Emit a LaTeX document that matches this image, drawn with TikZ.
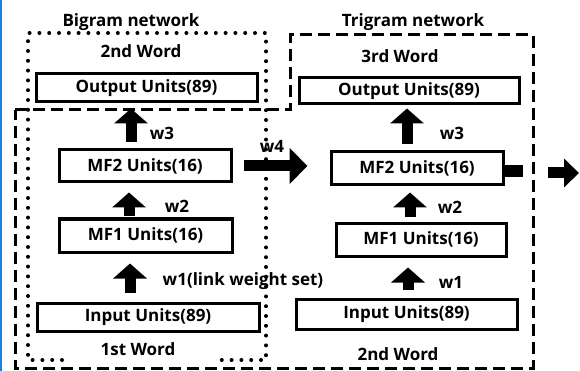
\documentclass[tikz,border=0pt]{standalone}
\usepackage{fontspec}
\setmainfont{Open Sans}
\usetikzlibrary{arrows.meta}

\definecolor{scanblue}{RGB}{26,128,224}

\begin{document}
\begin{tikzpicture}[x=1pt, y=-1pt,
  unitbox/.style={draw, line width=3pt, inner sep=0pt},
  lbl/.style={font=\fontsize{17}{19}\selectfont\bfseries, inner sep=0pt},
  fatarrow/.style={line width=11pt, -{Triangle[width=33pt, length=15pt]}},
  fatbar/.style={line width=12pt},
  dashline/.style={line width=3pt, dash pattern=on 12pt off 6pt},
  dotline/.style={line width=4pt, line cap=round, dash pattern=on 0pt off 9.8pt}]

\useasboundingbox (0,0) rectangle (580,371);
\fill[scanblue] (0,0) rectangle (2,371);

% network frames
\draw[dotline] (62,360) -- (28,360) -- (28,33) -- (266,33) -- (266,360) -- (220,360);
\draw[dashline] (15,110) -- (290,110) -- (290,35) -- (533,35) -- (533,368) -- (15,368) -- cycle;

\node[lbl, anchor=base] (bigram) at (131,27) {Bigram network};
\node[lbl, anchor=base] (trigram) at (413,27) {Trigram network};

% bigram network
\node[lbl, anchor=base] (bword2) at (141,58) {2nd Word};
\node[unitbox, lbl, minimum width=221pt, minimum height=28pt] (bout) at (146.5,88) {Output Units(89)};
\node[unitbox, lbl, minimum width=172pt, minimum height=32pt] (bmf2) at (145,166) {MF2 Units(16)};
\node[unitbox, lbl, minimum width=173pt, minimum height=33pt] (bmf1) at (145.5,235.5) {MF1 Units(16)};
\node[unitbox, lbl, minimum width=222pt, minimum height=28pt] (bin) at (148,317) {Input Units(89)};
\node[lbl, anchor=base] (bword1) at (138,355) {1st Word};

\draw[fatarrow, shorten <=6pt, shorten >=5pt] ([xshift=-14pt]bmf2.north) -- ([xshift=-14pt]bmf2.north |- bout.south);
\draw[fatarrow, shorten <=1pt, shorten >=9pt] ([xshift=-16.5pt]bmf1.north) -- ([xshift=-16.5pt]bmf1.north |- bmf2.south);
\draw[fatarrow, shorten <=9pt, shorten >=10pt] ([xshift=-18pt]bin.north) -- ([xshift=-18pt]bin.north |- bmf1.south);

\node[lbl, anchor=base] (bw3) at (162,140) {w3};
\node[lbl, anchor=base] (bw2) at (177,213) {w2};
\node[lbl, anchor=base] (bw1) at (243,285) {w1(link weight set)};

% trigram network
\node[lbl, anchor=base] (tword3) at (400,63) {3rd Word};
\node[unitbox, lbl, minimum width=220pt, minimum height=26pt] (tout) at (409,91) {Output Units(89)};
\node[unitbox, lbl, minimum width=172pt, minimum height=33pt] (tmf2) at (417,168.5) {MF2 Units(16)};
\node[unitbox, lbl, minimum width=170pt, minimum height=33pt] (tmf1) at (421,239.5) {MF1 Units(16)};
\node[unitbox, lbl, minimum width=221pt, minimum height=30pt] (tin) at (406.5,314) {Input Units(89)};
\node[lbl, anchor=base] (tword2) at (398,360) {2nd Word};

\draw[fatarrow, shorten <=6pt, shorten >=3pt] ([xshift=-10pt]tmf2.north) -- ([xshift=-10pt]tmf2.north |- tout.south);
\draw[fatarrow, shorten <=4pt, shorten >=6pt] ([xshift=-11pt]tmf1.north) -- ([xshift=-11pt]tmf1.north |- tmf2.south);
\draw[fatarrow, shorten <=8pt, shorten >=10pt] ([xshift=1.5pt]tin.north) -- ([xshift=1.5pt]tin.north |- tmf1.south);

\node[lbl, anchor=base] (tw3) at (452,140) {w3};
\node[lbl, anchor=base] (tw2) at (450,214) {w2};
\node[lbl, anchor=base] (tw1) at (451,288) {w1};

% link between the two
\draw[fatarrow, -{Triangle[width=35pt, length=18pt]}, shorten <=11pt, shorten >=22pt] (bmf2.east) -- (bmf2.east -| tmf2.west);
\node[lbl, anchor=base] (w4) at (272,153) {w4};

\coordinate (stubend) at (523,171.5);
\coordinate (nexttail) at (548,173);
\coordinate (nexttip) at (579,173);
\draw[fatbar] ([yshift=-3pt]tmf2.east) -- (stubend);
\draw[fatarrow, -{Triangle[width=28pt, length=15pt]}] (nexttail) -- (nexttip);

\end{tikzpicture}
\end{document}
